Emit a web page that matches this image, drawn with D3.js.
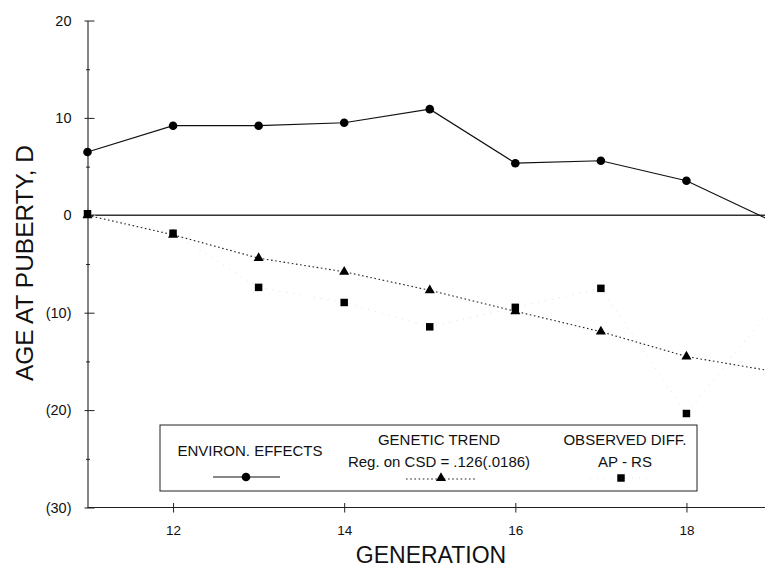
<!DOCTYPE html>
<html>
<head>
<meta charset="utf-8">
<script src="https://cdn.jsdelivr.net/npm/d3@7/dist/d3.min.js"></script>
<style>
  html, body { margin: 0; padding: 0; background: #fff; }
  svg { display: block; font-family: "Liberation Sans", Arial, Helvetica, sans-serif; }
</style>
</head>
<body>
<svg id="chart" width="765" height="567"></svg>
<script>
// ---- data ----
const generations    = [11, 12, 13, 14, 15, 16, 17, 18];
const environEffects = [6.5, 9.2, 9.2, 9.5, 10.9, 5.35, 5.6, 3.55];
const geneticTrend   = [0.0, -2.0, -4.4, -5.8, -7.7, -9.85, -11.95, -14.5];
const observedDiff   = [0.15, -1.85, -7.4, -8.95, -11.45, -9.45, -7.5, -20.35];
// line continuation past the last marker (no marker drawn)
const tailGeneration = 19;
const environTail  = -0.6;
const geneticTail  = -16.0;
const observedTail = -9.5;

const xTickValues = [12, 14, 16, 18];
const yMajorTicks = [20, 10, 0, -10, -20, -30];
const yMinorTicks = [15, 5, -5, -15, -25];
const yTickLabel = v => v < 0 ? "(" + (-v) + ")" : String(v);

const xTitle = "GENERATION";
const yTitle = "AGE AT PUBERTY, D";
const legendEnv = ["ENVIRON. EFFECTS"];
const legendGen = ["GENETIC TREND", "Reg. on CSD = .126(.0186)"];
const legendObs = ["OBSERVED DIFF.", "AP - RS"];

// ---- scales ----
const svg = d3.select("#chart");
const x = d3.scaleLinear().domain([11, 19]).range([87.5, 772]);
const y = d3.scaleLinear().domain([-30, 20]).range([507.5, 20.5]);
const x0 = x(11), yBottom = y(-30), yTop = y(20);

svg.append("rect").attr("width", 765).attr("height", 567).attr("fill", "#fff");

svg.append("defs").append("clipPath").attr("id", "plotclip")
  .append("rect").attr("x", x0 - 6).attr("y", yTop - 6)
  .attr("width", 765 - x0 + 6).attr("height", yBottom - yTop + 12);

// ---- axes ----
const ink = "#222";
// y axis
const yAxis = d3.axisLeft(y).tickValues(yMajorTicks).tickFormat(yTickLabel)
  .tickSizeInner(-6).tickSizeOuter(0).tickPadding(16);
const gy = svg.append("g").attr("transform", `translate(${x0},0)`).call(yAxis);
gy.select(".domain").attr("stroke", ink).attr("stroke-width", 1.1);
gy.selectAll(".tick line").attr("stroke", ink).attr("x1", -3).attr("x2", 7);
gy.selectAll(".tick text").attr("font-size", 14.5).attr("fill", "#111")
  .attr("font-family", "'Liberation Sans', Arial, sans-serif");
const yMinor = d3.axisLeft(y).tickValues(yMinorTicks).tickFormat("").tickSize(0);
const gym = svg.append("g").attr("transform", `translate(${x0},0)`).call(yMinor);
gym.select(".domain").remove();
gym.selectAll(".tick line").attr("stroke", ink).attr("x1", -1.5).attr("x2", 2.5);

// x axis
const xAxis = d3.axisBottom(x).tickValues(xTickValues).tickFormat(d3.format("d"))
  .tickSizeInner(5).tickSizeOuter(0).tickPadding(13);
const gx = svg.append("g").attr("transform", `translate(0,${yBottom})`).call(xAxis);
gx.select(".domain").attr("stroke", ink).attr("stroke-width", 1.1)
  .attr("d", `M${x0},0H765`);
gx.selectAll(".tick line").attr("stroke", ink).attr("y1", -4.5).attr("y2", 5);
gx.selectAll(".tick text").attr("font-size", 13.5).attr("fill", "#111")
  .attr("font-family", "'Liberation Sans', Arial, sans-serif");

// titles
svg.append("text").attr("x", 431).attr("y", 563).attr("text-anchor", "middle")
  .attr("font-size", 23).attr("fill", "#111").text(xTitle);
svg.append("text").attr("transform", "translate(33,263) rotate(-90)")
  .attr("text-anchor", "middle").attr("font-size", 24)
  .attr("textLength", 236).attr("lengthAdjust", "spacingAndGlyphs")
  .attr("fill", "#111").text(yTitle);

// ---- plot ----
const plot = svg.append("g").attr("clip-path", "url(#plotclip)");

// zero reference line
plot.append("line").attr("x1", x0).attr("x2", 765).attr("y1", y(0)).attr("y2", y(0))
  .attr("stroke", "#333").attr("stroke-width", 1.4);

const line = d3.line().x(d => x(d[0])).y(d => y(d[1]));
const envPts = generations.map((g, i) => [g, environEffects[i]]).concat([[tailGeneration, environTail]]);
const genPts = generations.map((g, i) => [g, geneticTrend[i]]).concat([[tailGeneration, geneticTail]]);
const obsPts = generations.map((g, i) => [g, observedDiff[i]]).concat([[tailGeneration, observedTail]]);

// faint observed line
plot.append("path").attr("d", line(obsPts)).attr("fill", "none")
  .attr("stroke", "#e0e0e0").attr("stroke-width", 1).attr("stroke-dasharray", "1,6");
// genetic trend dotted
plot.append("path").attr("d", line(genPts)).attr("fill", "none")
  .attr("stroke", "#222").attr("stroke-width", 1.1).attr("stroke-dasharray", "1.6,2.6");
// environ solid
plot.append("path").attr("d", line(envPts)).attr("fill", "none")
  .attr("stroke", "#111").attr("stroke-width", 1.2);

const tri = d3.symbol().type(d3.symbolTriangle).size(44);
const sq = d3.symbol().type(d3.symbolSquare).size(56);

plot.selectAll(".tri").data(generations.map((g, i) => [g, geneticTrend[i]])).enter()
  .append("path").attr("d", tri).attr("fill", "#000")
  .attr("transform", d => `translate(${x(d[0])},${y(d[1])})`);
plot.selectAll(".sq").data(generations.map((g, i) => [g, observedDiff[i]])).enter()
  .append("path").attr("d", sq).attr("fill", "#000")
  .attr("transform", d => `translate(${x(d[0])},${y(d[1])})`);
plot.selectAll(".circ").data(generations.map((g, i) => [g, environEffects[i]])).enter()
  .append("circle").attr("r", 4.3).attr("fill", "#000")
  .attr("cx", d => x(d[0])).attr("cy", d => y(d[1]));

// ---- legend ----
const lg = svg.append("g");
lg.append("rect").attr("x", 160).attr("y", 425).attr("width", 537).attr("height", 66)
  .attr("fill", "#fff").attr("stroke", "#222").attr("stroke-width", 1);
lg.append("text").attr("x", 250).attr("y", 456).attr("text-anchor", "middle")
  .attr("font-size", 15).attr("fill", "#111").text(legendEnv[0]);
lg.append("line").attr("x1", 213).attr("x2", 280).attr("y1", 477).attr("y2", 477)
  .attr("stroke", "#111").attr("stroke-width", 1.1);
lg.append("circle").attr("cx", 246).attr("cy", 477).attr("r", 4.3).attr("fill", "#000");

legendGen.forEach((t, i) => lg.append("text").attr("x", 439).attr("y", 445 + i * 22)
  .attr("text-anchor", "middle").attr("font-size", 15).attr("fill", "#111").text(t));
lg.append("line").attr("x1", 406).attr("x2", 477).attr("y1", 479).attr("y2", 479)
  .attr("stroke", "#222").attr("stroke-width", 1).attr("stroke-dasharray", "1.6,2.6");
lg.append("path").attr("d", tri).attr("fill", "#000").attr("transform", "translate(441,478)");

legendObs.forEach((t, i) => lg.append("text").attr("x", 625).attr("y", 445 + i * 22)
  .attr("text-anchor", "middle").attr("font-size", 15).attr("fill", "#111").text(t));
lg.append("line").attr("x1", 590).attr("x2", 652).attr("y1", 478).attr("y2", 478)
  .attr("stroke", "#e6e6e6").attr("stroke-width", 1).attr("stroke-dasharray", "1,6");
lg.append("path").attr("d", sq).attr("fill", "#000").attr("transform", "translate(621,478)");
</script>
</body>
</html>
